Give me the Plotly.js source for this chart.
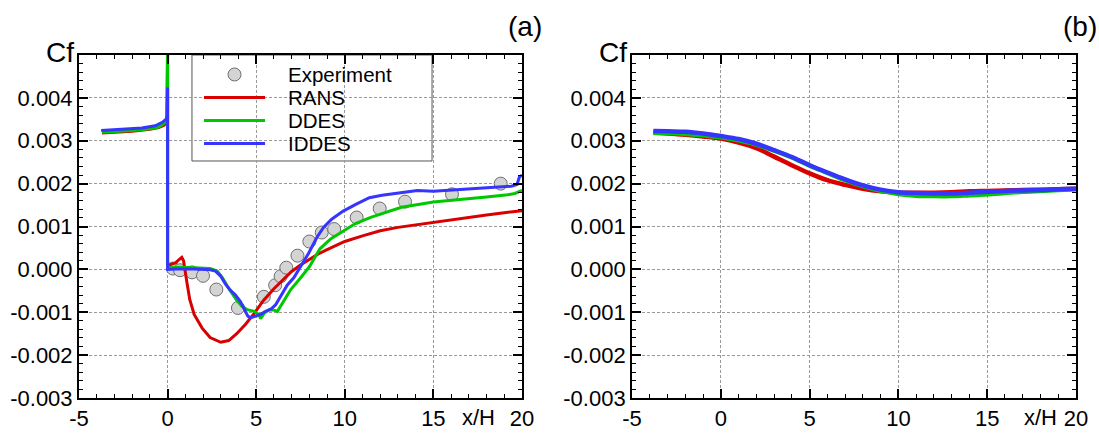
<!DOCTYPE html>
<html>
<head>
<meta charset="utf-8">
<script src="https://cdn.plot.ly/plotly-3.0.1.min.js"></script>
<style>
  html, body { margin: 0; padding: 0; background: #fff; }
  #chart { width: 1099px; height: 433px; }
</style>
</head>
<body>
<div id="chart"></div>
<script>
// ---------- Panel (a) data ----------
const expX = [0.3, 0.7, 1.38, 2.0, 2.75, 3.97, 5.43, 6.07, 6.38, 6.7, 7.33, 8.0, 8.7, 9.4, 10.67, 11.97, 13.4, 16.05, 18.8];
const expCf = [0.00002, -0.00002, -0.00007, -0.00015, -0.00047, -0.0009, -0.00064, -0.00037, -0.00016, 0.00004, 0.00032, 0.00065, 0.00086, 0.00094, 0.00121, 0.00142, 0.00158, 0.00175, 0.0020];

const ransX_a = [-3.7, -3, -2, -1, -0.5, -0.2, -0.05, 0, 0, 0.15, 0.45, 0.65, 0.8, 0.9, 1.0, 1.1, 1.25, 1.5, 1.95, 2.4, 3.0, 3.45, 3.9, 4.4, 4.9, 5.4, 6.0, 6.5, 7.0, 7.5, 8.0, 8.5, 9.0, 10.0, 11.0, 12.0, 13.0, 14.0, 15.0, 16.0, 17.0, 18.0, 19.0, 20.0];
const ransCf_a = [0.00318, 0.00319, 0.00322, 0.00327, 0.00331, 0.00336, 0.00345, 0.0052, 0, 0.00011, 0.00015, 0.00023, 0.00028, 0.0002, -0.00002, -0.00033, -0.0007, -0.00105, -0.00137, -0.00159, -0.0017, -0.00166, -0.0015, -0.00128, -0.00102, -0.00073, -0.00045, -0.00026, -0.00005, 0.0001, 0.00024, 0.00036, 0.00046, 0.00065, 0.00078, 0.0009, 0.00098, 0.00104, 0.00109, 0.00116, 0.00122, 0.00127, 0.00132, 0.00137];

const ddesX_a = [-3.7, -3, -2, -1, -0.5, -0.3, -0.1, -0.02, 0, 0, 0.05, 0.7, 1.5, 2.4, 2.8, 3.1, 3.4, 3.65, 3.9, 4.2, 4.5, 4.9, 5.15, 5.25, 5.45, 5.75, 6.0, 6.2, 6.5, 6.95, 7.5, 8.0, 8.3, 8.6, 9.2, 9.9, 10.6, 11.5, 12.5, 13.2, 15, 16.75, 18, 19.2, 19.6, 20];
const ddesCf_a = [0.0032, 0.00321, 0.00324, 0.00328, 0.00332, 0.00337, 0.00344, 0.00348, 0.0052, 0, 0.00004, 0.00005, 0.00004, 0.00002, -0.00004, -0.0002, -0.00041, -0.00057, -0.00072, -0.00086, -0.00094, -0.00098, -0.00105, -0.00115, -0.00102, -0.00094, -0.00095, -0.00098, -0.00077, -0.00047, -0.0002, 0.00006, 0.00027, 0.00048, 0.00071, 0.0009, 0.00107, 0.00122, 0.00136, 0.00145, 0.00157, 0.00165, 0.00169, 0.00174, 0.00177, 0.00184];

const iddesX_a = [-3.75, -2.4, -1.45, -0.7, -0.3, -0.1, -0.02, 0, 0, 0.5, 1.5, 2.4, 2.7, 2.98, 3.26, 3.55, 3.83, 4.11, 4.3, 4.53, 4.68, 4.96, 5.25, 5.53, 5.85, 6.09, 6.38, 6.75, 7.13, 7.5, 7.95, 8.43, 8.8, 9.26, 9.91, 10.65, 11.39, 12.1, 13.1, 14.1, 15.0, 15.8, 17.7, 19.4, 19.72, 19.85, 20];
const iddesCf_a = [0.00324, 0.00327, 0.0033, 0.00335, 0.00343, 0.0035, 0.00356, 0.00424, 0, 0.00001, 0.00001, -0.00001, -0.00004, -0.00015, -0.00034, -0.00049, -0.0006, -0.00075, -0.0009, -0.00109, -0.00113, -0.00109, -0.00105, -0.00098, -0.00092, -0.00083, -0.00062, -0.00037, -0.00019, 0.00006, 0.00037, 0.00075, 0.00098, 0.00117, 0.00136, 0.00152, 0.00167, 0.00173, 0.00179, 0.00184, 0.00182, 0.00184, 0.0019, 0.00194, 0.00198, 0.00215, 0.0022];

// ---------- Panel (b) data ----------
const xB = [-3.8, -3, -2, -1, 0, 1, 2, 3, 4, 5, 6, 7, 8, 9, 10, 11, 12, 13, 14, 15, 16, 17, 18, 19, 20];
const ransCf_b = [0.00319, 0.00317, 0.00314, 0.0031, 0.00305, 0.00296, 0.00283, 0.00263, 0.00243, 0.00224, 0.00208, 0.00197, 0.00188, 0.00182, 0.00179, 0.00179, 0.00179, 0.0018, 0.00182, 0.00183, 0.00184, 0.00185, 0.00186, 0.00187, 0.00188];
const ddesCf_b = [0.00318, 0.00318, 0.00316, 0.00313, 0.00308, 0.00301, 0.00291, 0.00277, 0.00261, 0.00242, 0.00225, 0.00208, 0.00194, 0.00183, 0.00176, 0.00172, 0.00171, 0.00171, 0.00173, 0.00175, 0.00178, 0.00181, 0.00183, 0.00185, 0.00187];
const iddesCf_b = [0.00323, 0.00322, 0.00321, 0.00317, 0.00311, 0.00304, 0.00293, 0.00278, 0.00262, 0.00243, 0.00226, 0.0021, 0.00196, 0.00186, 0.0018, 0.00178, 0.00177, 0.00177, 0.00179, 0.00181, 0.00183, 0.00184, 0.00185, 0.00187, 0.00188];

// ---------- Ticks / labels ----------
const xTickVals = [-5, 0, 5, 10, 15, 20];
const xTickText = ['-5', '0', '5', '10', '15', '20'];
const yTickVals = [-0.003, -0.002, -0.001, 0, 0.001, 0.002, 0.003, 0.004];
const yTickText = ['-0.003', '-0.002', '-0.001', '0.000', '0.001', '0.002', '0.003', '0.004'];
const names = ['Experiment', 'RANS', 'DDES', 'IDDES'];
const panelLabels = ['(a)', '(b)'];

const colors = { RANS: '#d90000', DDES: '#00c800', IDDES: '#3535ff' };
const expFill = '#d4d4d4', expEdge = '#6e6e6e';
const FONT = 'Arial, "Liberation Sans", Helvetica, sans-serif';

const traces = [
  { x: expX, y: expCf, name: names[0], type: 'scatter', mode: 'markers',
    marker: { symbol: 'circle', size: 13, color: expFill, line: { color: expEdge, width: 1 } },
    xaxis: 'x', yaxis: 'y' },
  { x: ransX_a, y: ransCf_a, name: names[1], type: 'scatter', mode: 'lines',
    line: { color: colors.RANS, width: 3 }, xaxis: 'x', yaxis: 'y' },
  { x: ddesX_a, y: ddesCf_a, name: names[2], type: 'scatter', mode: 'lines',
    line: { color: colors.DDES, width: 3 }, xaxis: 'x', yaxis: 'y' },
  { x: iddesX_a, y: iddesCf_a, name: names[3], type: 'scatter', mode: 'lines',
    line: { color: colors.IDDES, width: 3 }, xaxis: 'x', yaxis: 'y' },
  { x: xB, y: ransCf_b, name: names[1], type: 'scatter', mode: 'lines',
    line: { color: colors.RANS, width: 4.5, shape: 'spline' }, xaxis: 'x2', yaxis: 'y2' },
  { x: xB, y: ddesCf_b, name: names[2], type: 'scatter', mode: 'lines',
    line: { color: colors.DDES, width: 4.5, shape: 'spline' }, xaxis: 'x2', yaxis: 'y2' },
  { x: xB, y: iddesCf_b, name: names[3], type: 'scatter', mode: 'lines',
    line: { color: colors.IDDES, width: 4.5, shape: 'spline' }, xaxis: 'x2', yaxis: 'y2' }
];

function xAxis(domain, anchor) {
  return {
    domain: domain, anchor: anchor, range: [-5, 20], autorange: false,
    tickmode: 'array', tickvals: xTickVals, ticktext: xTickText,
    ticks: 'inside', ticklen: 9, tickwidth: 2, tickcolor: '#000',
    showline: true, linewidth: 2, linecolor: '#000', mirror: 'allticks',
    showgrid: true, gridcolor: '#9a9a9a', gridwidth: 1, griddash: '3px,2px',
    zeroline: false,
    minor: { tickmode: 'linear', tick0: -5, dtick: 1, ticks: 'inside', ticklen: 4, tickwidth: 1, tickcolor: '#000', showgrid: false },
    tickfont: { family: FONT, size: 22, color: '#000' }
  };
}
function yAxis(anchor) {
  return {
    anchor: anchor, domain: [0, 1], range: [-0.003, 0.005], autorange: false,
    tickmode: 'array', tickvals: yTickVals, ticktext: yTickText,
    ticks: 'inside', ticklen: 9, tickwidth: 2, tickcolor: '#000',
    showline: true, linewidth: 2, linecolor: '#000', mirror: 'allticks',
    showgrid: true, gridcolor: '#9a9a9a', gridwidth: 1, griddash: '3px,2px',
    zeroline: false,
    minor: { tickmode: 'linear', tick0: -0.003, dtick: 0.0002, ticks: 'inside', ticklen: 4, tickwidth: 1, tickcolor: '#000', showgrid: false },
    tickfont: { family: FONT, size: 22, color: '#000' }
  };
}

// ---------- Legend box for panel (a) (paper coordinates) ----------
const legBox = { x0: 0.1133, x1: 0.3541, y0: 0.691, y1: 1.0 };
const legRowY = [0.9432, 0.8761, 0.8090, 0.7420];
const legSymX0 = 0.1254, legSymX1 = 0.1866, legTextX = 0.2086;

const shapes = [
  { type: 'rect', xref: 'paper', yref: 'paper', x0: legBox.x0, x1: legBox.x1, y0: legBox.y0, y1: legBox.y1,
    fillcolor: '#fff', line: { color: '#555', width: 1 }, layer: 'between' },
  { type: 'circle', xref: 'paper', yref: 'paper', xsizemode: 'pixel', ysizemode: 'pixel',
    xanchor: (legSymX0 + legSymX1) / 2, yanchor: legRowY[0], x0: -6.5, x1: 6.5, y0: -6.5, y1: 6.5,
    fillcolor: expFill, line: { color: expEdge, width: 1 } }
];
const lineColors = [colors.RANS, colors.DDES, colors.IDDES];
for (let i = 0; i < 3; i++) {
  shapes.push({ type: 'line', xref: 'paper', yref: 'paper', x0: legSymX0, x1: legSymX1,
    y0: legRowY[i + 1], y1: legRowY[i + 1], line: { color: lineColors[i], width: 3 } });
}

const annotations = [];
names.forEach((n, i) => {
  annotations.push({ text: n, xref: 'paper', yref: 'paper', x: legTextX, y: legRowY[i],
    xanchor: 'left', yanchor: 'middle', showarrow: false, borderpad: 0,
    font: { family: FONT, size: 20.5, color: '#000' } });
});
[[-0.003, 0.401, 0.447], [0.5516, 0.964, 1.004]].forEach((p, i) => {
  annotations.push({ text: 'Cf', xref: 'paper', yref: 'paper', x: p[0], y: 1.008, xanchor: 'right', yanchor: 'middle',
    showarrow: false, font: { family: FONT, size: 28, color: '#000' } });
  annotations.push({ text: 'x/H', xref: 'paper', yref: 'paper', x: p[1], y: -0.058, xanchor: 'center', yanchor: 'middle',
    showarrow: false, borderpad: 0, font: { family: FONT, size: 22, color: '#000' } });
  annotations.push({ text: panelLabels[i], xref: 'paper', yref: 'paper', x: p[2], y: 1.0845, xanchor: 'center', yanchor: 'middle',
    showarrow: false, font: { family: FONT, size: 28, color: '#000' } });
});

const layout = {
  width: 1099, height: 433,
  margin: { l: 79, r: 23, t: 55, b: 35 },
  paper_bgcolor: '#fff', plot_bgcolor: '#fff',
  font: { family: FONT, color: '#000' },
  xaxis: xAxis([0, 0.4443], 'y'),
  yaxis: yAxis('x'),
  xaxis2: xAxis([0.5547, 1], 'y2'),
  yaxis2: yAxis('x2'),
  showlegend: false,
  shapes: shapes,
  annotations: annotations
};

Plotly.newPlot('chart', traces, layout, { staticPlot: true, displayModeBar: false });
</script>
</body>
</html>
